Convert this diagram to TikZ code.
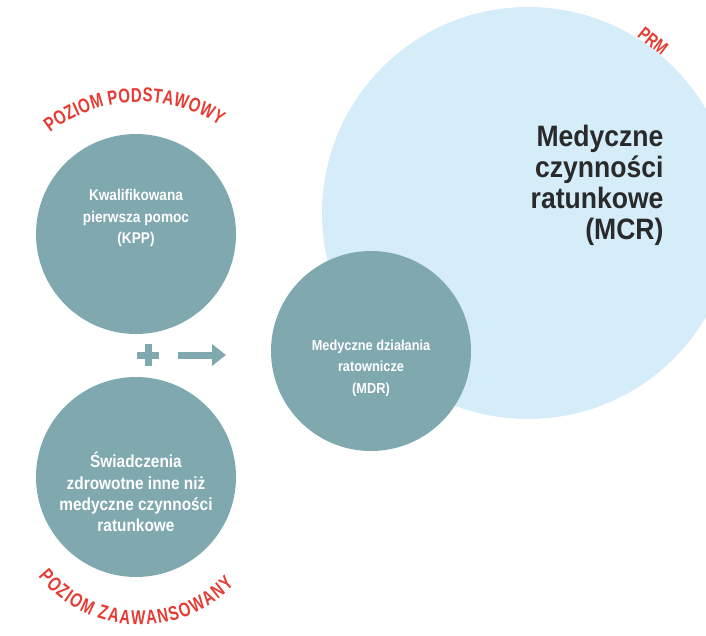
\documentclass[tikz,border=0pt]{standalone}
\usepackage{fontspec}
\setmainfont{Liberation Sans}
\newfontfamily\condfont[FakeStretch=0.88]{Liberation Sans}
\newfontfamily\bigfont[FakeStretch=0.9]{Liberation Sans}
\newfontfamily\labelfont[FakeStretch=0.75]{Liberation Sans}
\usetikzlibrary{decorations.text,arrows.meta}
\definecolor{teal}{HTML}{7FA8AF}
\definecolor{skyblue}{HTML}{D5ECF9}
\definecolor{labelred}{HTML}{E63B32}
\definecolor{darktext}{HTML}{2A2A2A}
\begin{document}
\begin{tikzpicture}[x=1pt,y=-1pt,
  disc/.style={circle,fill=teal,minimum size=#1,inner sep=0pt},
  disctext/.style={text=white,align=center,font=\condfont\bfseries\fontsize{#1}{21.3}\selectfont},
  bigtext/.style={text=darktext,align=right,font=\bigfont\bfseries\fontsize{29.5}{30.8}\selectfont},
  redlabel/.style={text=labelred,font=\labelfont\bfseries\fontsize{19}{19}\selectfont},
  arclabel/.style={decorate,decoration={text along path,text align={fit to path},
    text={|\labelfont\bfseries\fontsize{20}{20}\selectfont\color{labelred}|#1}}}]
\useasboundingbox (0,0) rectangle (706,635);
% large light-blue disc (MCR)
\begin{scope}
\clip (0,0) rectangle (706,635);
\node[circle,fill=skyblue,minimum size=412pt,inner sep=0pt] (mcr) at (528,213) {};
\end{scope}
\node[bigtext,anchor=north east] (mcrtext) at (667,122) {Medyczne\\czynności\\ratunkowe\\(MCR)};
\node[redlabel,rotate=-38] (prm) at (653,41) {PRM};
% teal discs
\node[disc=200pt] (kpp) at (136,234) {};
\node[disc=200pt] (swz) at (136,477) {};
\node[disc=200pt] (mdr) at (371,351) {};
\node[disctext=15.5] (kpptext) at (136,218) {Kwalifikowana\\pierwsza pomoc\\(KPP)};
\node[disctext=17.5] (swztext) at (136,492) {Świadczenia\\zdrowotne inne niż\\medyczne czynności\\ratunkowe};
\node[disctext=14.5] (mdrtext) at (371,368) {Medyczne działania\\ratownicze\\(MDR)};
% plus sign and arrow between the discs
\node[fill=teal,minimum width=22pt,minimum height=7pt,inner sep=0pt] (plush) at (148,355) {};
\node[fill=teal,minimum width=7pt,minimum height=22pt,inner sep=0pt] (plusv) at (148,355) {};
\coordinate (arrs) at (178,355);
\coordinate (arre) at (226,355);
\draw[teal,line width=7pt,-{Triangle[length=14pt,width=21pt]}] (arrs) -- (arre);
% curved level labels (their arcs are flatter than the discs)
\coordinate (topc) at (140,248);
\coordinate (botc) at (140,494);
\path[arclabel={POZIOM PODSTAWOWY}]
  (topc) ++(-128:146) arc[start angle=-128,end angle=-57,radius=146];
\path[arclabel={POZIOM ZAAWANSOWANY}]
  (botc) ++(-219:131) arc[start angle=-219,end angle=-316,radius=131];
\end{tikzpicture}
\end{document}
